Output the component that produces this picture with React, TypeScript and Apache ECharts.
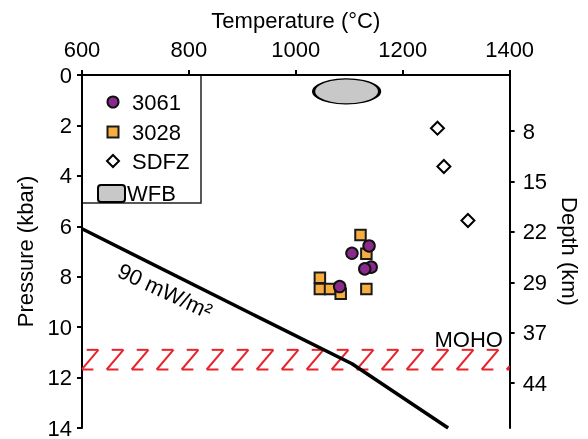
import React, { useEffect, useRef } from "react";
import * as echarts from "echarts";

// Temperature (°C), Pressure (kbar)
const sample3061: number[][] = [[1137, 6.78], [1105, 7.07], [1141, 7.62], [1129, 7.69], [1082, 8.39]];
const sample3028: number[][] = [[1121, 6.35], [1132, 7.09], [1045, 8.04], [1045, 8.49], [1064, 8.49], [1084, 8.68], [1132, 8.49]];
const sdfz: number[][] = [[1265, 2.11], [1277, 3.63], [1322, 5.77]];
const wfb: number[][] = [[1095, 0.65]];
const geotherm90: number[][] = [[600, 6.1], [920, 9.5], [1105, 11.45], [1285, 14]];
// [Tmin, Tmax, Ptop, Pbottom]
const mohoBand: number[][] = [[600, 1400, 10.9, 11.68]];
const depthTickKm = [8, 15.2, 22.4, 29.6, 36.8, 44];
const depthTickLabels = ["8", "15", "22", "29", "37", "44"];

const FONT = "'Liberation Sans', Arial, sans-serif";
const FS = 22;

export default function App() {
  const ref = useRef<HTMLDivElement>(null);
  useEffect(() => {
    if (!ref.current) return;
    const chart = echarts.init(ref.current, null, { renderer: "svg" });
    const axisLine = { show: true, lineStyle: { color: "#000", width: 2 } };
    const axisTick = { show: true, length: 5, lineStyle: { color: "#000", width: 2 } };
    const label = { color: "#000", fontSize: FS, fontFamily: FONT };

    const clipSeg = (x1: number, y1: number, x2: number, y2: number, xL: number, xR: number) => {
      const dx = x2 - x1;
      if (dx === 0) {
        if (x1 < xL || x1 > xR) return null;
        return [x1, y1, x2, y2];
      }
      const tA = (xL - x1) / dx;
      const tB = (xR - x1) / dx;
      const t0 = Math.max(0, Math.min(tA, tB));
      const t1 = Math.min(1, Math.max(tA, tB));
      if (t0 >= t1) return null;
      return [x1 + dx * t0, y1 + (y2 - y1) * t0, x1 + dx * t1, y1 + (y2 - y1) * t1];
    };

    chart.setOption({
      animation: false,
      textStyle: { fontFamily: FONT },
      grid: { left: 82, right: 73, top: 75, bottom: 4 },
      xAxis: [
        {
          type: "value",
          position: "top",
          min: 600,
          max: 1400,
          interval: 200,
          name: "Temperature (°C)",
          nameLocation: "middle",
          nameGap: 44,
          nameTextStyle: { ...label },
          axisLine,
          axisTick,
          axisLabel: { ...label, margin: 15, formatter: (v: number) => String(v) },
          splitLine: { show: false },
        },
        {
          type: "value",
          position: "bottom",
          min: 600,
          max: 1400,
          axisLine,
          axisTick: { show: false },
          axisLabel: { show: false },
          splitLine: { show: false },
        },
      ],
      yAxis: [
        {
          type: "value",
          position: "left",
          inverse: true,
          min: 0,
          max: 14,
          interval: 2,
          name: "Pressure (kbar)",
          nameLocation: "middle",
          nameGap: 46,
          nameRotate: 90,
          nameTextStyle: { ...label },
          axisLine,
          axisTick,
          axisLabel: { ...label, margin: 10 },
          splitLine: { show: false },
        },
        {
          type: "value",
          position: "right",
          inverse: true,
          min: 0,
          max: 50.4,
          name: "Depth (km)",
          nameLocation: "middle",
          nameGap: 48,
          nameRotate: -90,
          nameTextStyle: { ...label },
          axisLine,
          axisTick: { ...axisTick, customValues: depthTickKm },
          axisLabel: {
            ...label,
            margin: 13,
            customValues: depthTickKm,
            formatter: (v: number) => {
              let best = 0;
              depthTickKm.forEach((d, i) => {
                if (Math.abs(d - v) < Math.abs(depthTickKm[best] - v)) best = i;
              });
              return depthTickLabels[best];
            },
          },
          splitLine: { show: false },
        },
      ],
      series: [
        {
          name: "MOHO",
          type: "custom",
          xAxisIndex: 0,
          yAxisIndex: 0,
          data: mohoBand,
          z: 1,
          renderItem: (params: any, api: any) => {
            const p0 = api.coord([api.value(0), api.value(2)]);
            const p1 = api.coord([api.value(1), api.value(3)]);
            const xL = Math.min(p0[0], p1[0]);
            const xR = Math.max(p0[0], p1[0]);
            const yT = p0[1];
            const yB = p1[1];
            const period = 25;
            const topLen = 11.7;
            const back = 5;
            const children: any[] = [];
            const style = { stroke: "#E8232B", lineWidth: 2, fill: null };
            for (let a = xL + 4.7 - period; a < xR + period; a += period) {
              const segs = [
                [a, yT, a + topLen, yT],
                [a + topLen, yT, a - back, yB],
                [a - back, yB, a - back + topLen, yB],
              ];
              segs.forEach((s) => {
                const c = clipSeg(s[0], s[1], s[2], s[3], xL, xR);
                if (c) children.push({ type: "line", shape: { x1: c[0], y1: c[1], x2: c[2], y2: c[3] }, style });
              });
            }
            return { type: "group", children };
          },
        },
        {
          name: "90 mW/m²",
          type: "line",
          xAxisIndex: 0,
          yAxisIndex: 0,
          data: geotherm90,
          symbol: "none",
          z: 3,
          lineStyle: { color: "#000", width: 3.5 },
        },
        {
          name: "WFB",
          type: "scatter",
          xAxisIndex: 0,
          yAxisIndex: 0,
          data: wfb,
          symbol: "circle",
          symbolSize: [66, 25],
          z: 4,
          itemStyle: { color: "#C8C8C8", borderColor: "#000", borderWidth: 2, opacity: 1 },
        },
        {
          name: "SDFZ",
          type: "scatter",
          xAxisIndex: 0,
          yAxisIndex: 0,
          data: sdfz,
          symbol: "diamond",
          symbolSize: 13,
          z: 4,
          itemStyle: { color: "#fff", borderColor: "#000", borderWidth: 2, opacity: 1 },
        },
        {
          name: "3028",
          type: "scatter",
          xAxisIndex: 0,
          yAxisIndex: 0,
          data: sample3028,
          symbol: "rect",
          symbolSize: 10.5,
          z: 5,
          itemStyle: { color: "#F7AE41", borderColor: "#1a1a1a", borderWidth: 2, opacity: 1 },
        },
        {
          name: "3061",
          type: "scatter",
          xAxisIndex: 0,
          yAxisIndex: 0,
          data: sample3061,
          symbol: "circle",
          symbolSize: 11.5,
          z: 6,
          itemStyle: { color: "#8B2A8D", borderColor: "#111", borderWidth: 2, opacity: 1 },
        },
      ],
      graphic: [
        {
          type: "text",
          x: 165,
          y: 291,
          rotation: (-25 * Math.PI) / 180,
          z: 10,
          style: { text: "90 mW/m²", fill: "#000", font: `${FS}px ${FONT}`, textAlign: "center", textVerticalAlign: "middle" },
        },
        {
          type: "text",
          x: 503,
          y: 339,
          z: 10,
          style: { text: "MOHO", fill: "#000", font: `${FS}px ${FONT}`, textAlign: "right", textVerticalAlign: "middle" },
        },
        {
          type: "group",
          z: 100,
          children: [
            { type: "rect", shape: { x: 82, y: 75, width: 119, height: 128 }, style: { fill: "#fff", stroke: "#222", lineWidth: 1.5 } },
            { type: "circle", shape: { cx: 113, cy: 102, r: 5.5 }, style: { fill: "#8B2A8D", stroke: "#111", lineWidth: 2 } },
            { type: "text", x: 132, y: 102, style: { text: "3061", fill: "#000", font: `${FS}px ${FONT}`, textVerticalAlign: "middle" } },
            { type: "rect", shape: { x: 107.5, y: 126.5, width: 11, height: 11 }, style: { fill: "#F7AE41", stroke: "#1a1a1a", lineWidth: 2 } },
            { type: "text", x: 132, y: 132, style: { text: "3028", fill: "#000", font: `${FS}px ${FONT}`, textVerticalAlign: "middle" } },
            { type: "polygon", shape: { points: [[113, 155], [119, 161], [113, 167], [107, 161]] }, style: { fill: "#fff", stroke: "#000", lineWidth: 2 } },
            { type: "text", x: 132, y: 161, style: { text: "SDFZ", fill: "#000", font: `${FS}px ${FONT}`, textVerticalAlign: "middle" } },
            { type: "rect", shape: { x: 98, y: 185, width: 27, height: 17, r: 3 }, style: { fill: "#C8C8C8", stroke: "#000", lineWidth: 2 } },
            { type: "text", x: 127, y: 193.5, style: { text: "WFB", fill: "#000", font: `${FS}px ${FONT}`, textVerticalAlign: "middle" } },
          ],
        },
      ],
    });
    return () => chart.dispose();
  }, []);
  return <div ref={ref} style={{ position: "fixed", left: 0, top: 0, width: 588, height: 439 }} />;
}
